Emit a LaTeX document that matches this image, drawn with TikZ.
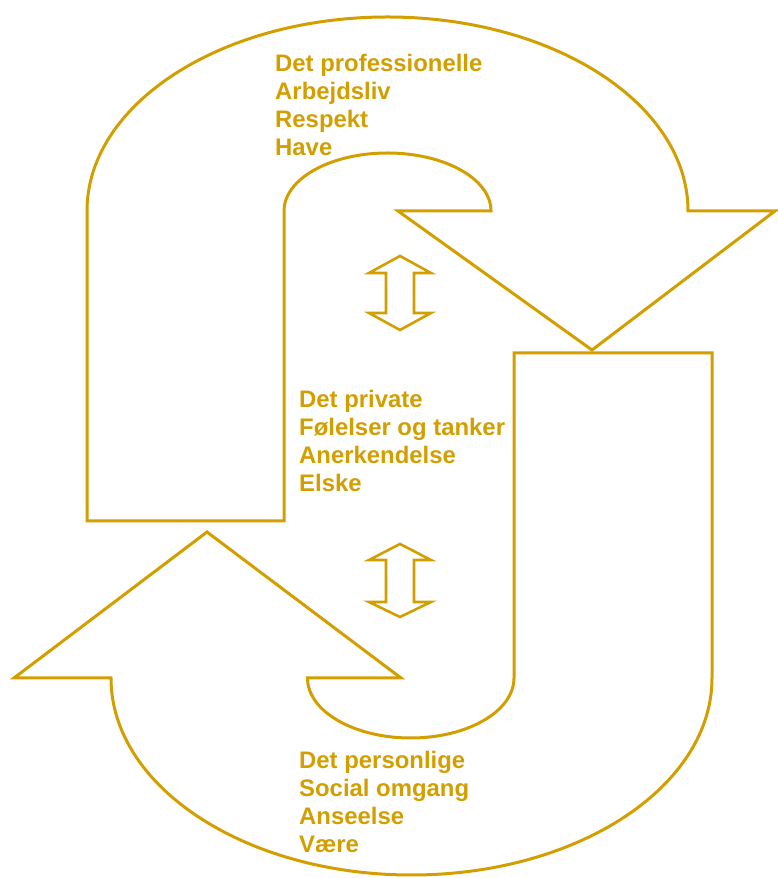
\documentclass[tikz,border=0pt]{standalone}
\usepackage{fontspec}
\setmainfont{Liberation Sans}
\definecolor{gold}{RGB}{210,158,0}
\tikzset{
  outline/.style={draw=gold, line width=3pt, line join=miter, fill=none},
  lbl/.style={anchor=base west, inner sep=0pt, text=gold, font=\fontsize{23.9}{27.7}\selectfont\bfseries}
}
\begin{document}
\begin{tikzpicture}[x=1pt,y=1pt]
\useasboundingbox (0,0) rectangle (777,878);
% upper U-turn arrow
\draw[outline] (87,357) -- (87,667)
  arc[start angle=180, end angle=0, x radius=300.5, y radius=194]
  -- (775,667) -- (592,528) -- (398,667) -- (491,667)
  arc[start angle=0, end angle=180, x radius=103.5, y radius=58]
  -- (284,357) -- cycle;
% lower U-turn arrow
\draw[outline] (514,525) -- (712,525) -- (712,200)
  arc[start angle=0, end angle=-180, x radius=300.5, y radius=197]
  -- (14,200) -- (207,346) -- (401,200) -- (307.5,200)
  arc[start angle=180, end angle=360, x radius=103.25, y radius=60]
  -- cycle;
% double arrows
\draw[outline, line width=2.6pt] (400,622) -- (431,605) -- (414,605) -- (414,565) -- (431,565)
  -- (400,548) -- (369,565) -- (386,565) -- (386,605) -- (369,605) -- cycle;
\draw[outline, line width=2.6pt] (400,334) -- (431,318) -- (414,318) -- (414,276) -- (431,276)
  -- (400,261) -- (369,276) -- (386,276) -- (386,318) -- (369,318) -- cycle;
% texts
\node[lbl] (p1) at (275,806) {Det professionelle};
\node[lbl] (p2) at (275,778.3) {Arbejdsliv};
\node[lbl] (p3) at (275,750.6) {Respekt};
\node[lbl] (p4) at (275,722.9) {Have};
\node[lbl] (m1) at (299,470) {Det private};
\node[lbl] (m2) at (299,442.3) {Følelser og tanker};
\node[lbl] (m3) at (299,414.6) {Anerkendelse};
\node[lbl] (m4) at (299,386.9) {Elske};
\node[lbl] (b1) at (299,109) {Det personlige};
\node[lbl] (b2) at (299,81.3) {Social omgang};
\node[lbl] (b3) at (299,53.6) {Anseelse};
\node[lbl] (b4) at (299,25.9) {Være};
\end{tikzpicture}
\end{document}
